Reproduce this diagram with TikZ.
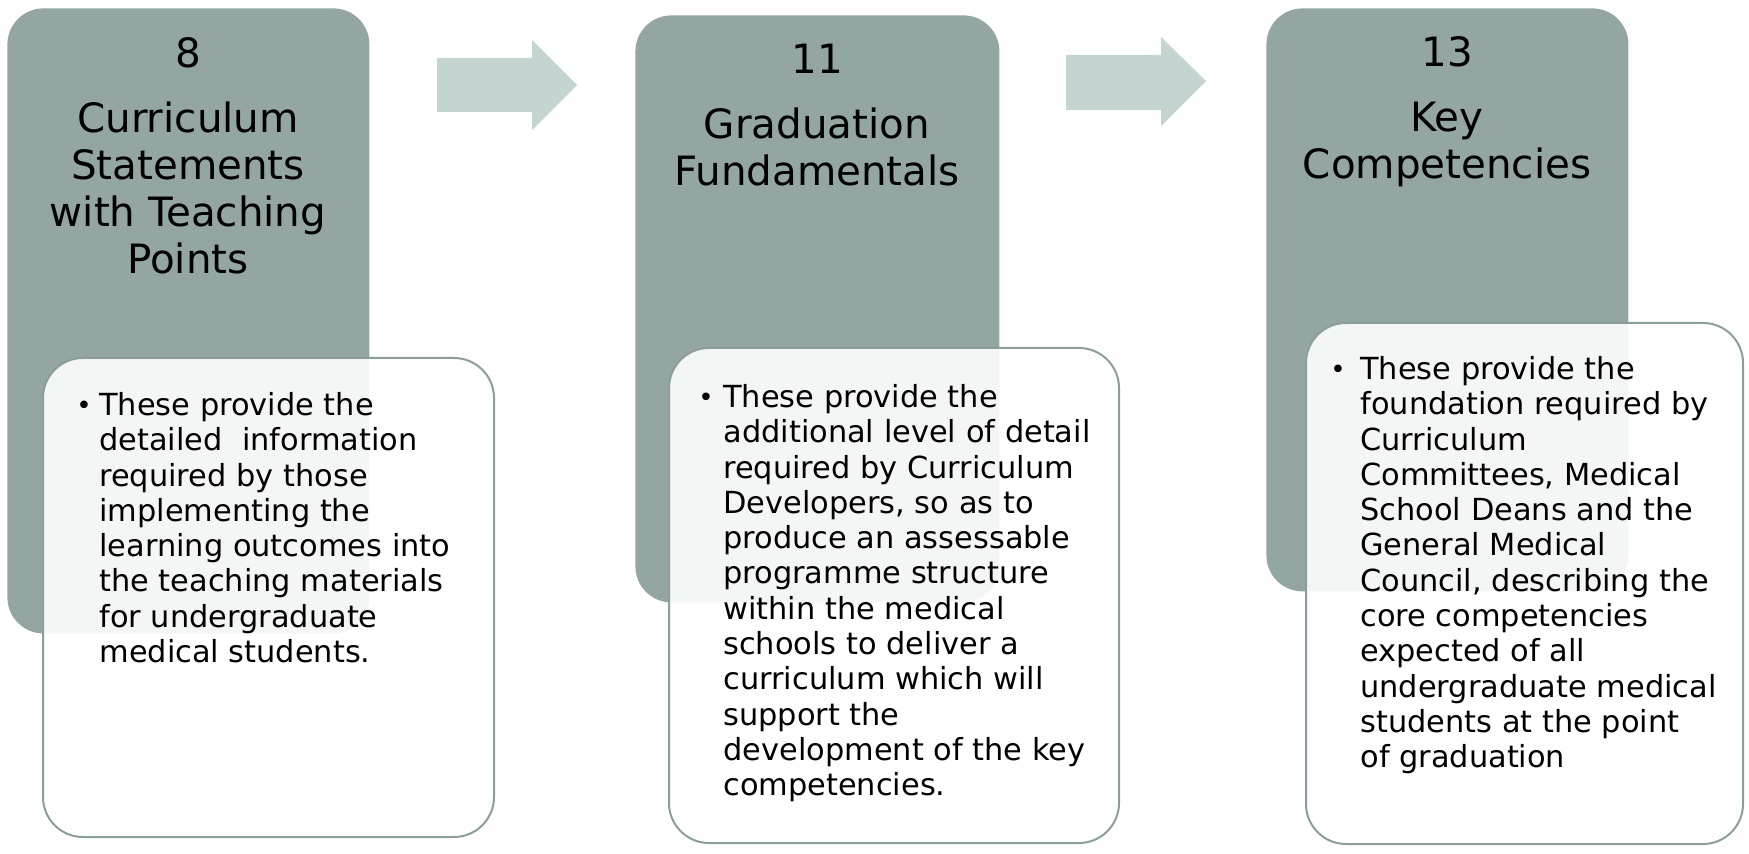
\documentclass[tikz,border=0pt]{standalone}
\usepackage{fontspec}
\setmainfont{DejaVu Sans}
\definecolor{darkc}{RGB}{147,166,163}
\definecolor{arrowc}{RGB}{196,212,208}
\definecolor{borderc}{RGB}{140,158,155}
\begin{document}
\begin{tikzpicture}[x=0.5pt,y=-0.5pt,
  darkbox/.style={fill=darkc,draw=none,rounded corners=18pt,inner sep=0pt,anchor=north west},
  whitebox/.style={fill=white,fill opacity=0.9,draw=borderc,line width=1pt,rounded corners=20pt,inner sep=0pt,anchor=north west},
  blockarrow/.style={fill=arrowc,draw=none},
  numtext/.style={anchor=north,inner sep=0pt,align=center,font=\fontsize{20.2}{23.5}\selectfont},
  titletext/.style={anchor=north,inner sep=0pt,align=center,font=\fontsize{20.2}{23.5}\selectfont},
  bodytext/.style={anchor=north west,inner sep=0pt,align=left,font=\fontsize{15.2}{17.65}\selectfont},
  bullettext/.style={anchor=base,inner sep=0pt,font=\fontsize{13}{15}\selectfont}
]
\useasboundingbox (0,0) rectangle (1749,854);

% dark header boxes
\node[darkbox,minimum width=181pt,minimum height=312.5pt] (d1) at (7,8) {};
\node[darkbox,minimum width=182pt,minimum height=293.5pt] (d2) at (635,15) {};
\node[darkbox,minimum width=181pt,minimum height=291.5pt] (d3) at (1266,8) {};

% block arrows
\fill[blockarrow] (437,58) -- (532,58) -- (532,40) -- (577,85) -- (532,130) -- (532,112) -- (437,112) -- cycle;
\fill[blockarrow] (1066,55) -- (1161,55) -- (1161,37) -- (1206,81) -- (1161,126) -- (1161,110) -- (1066,110) -- cycle;

% white description boxes
\node[whitebox,minimum width=225.5pt,minimum height=239.5pt] (w1) at (42,357) {};
\node[whitebox,minimum width=225pt,minimum height=247.5pt] (w2) at (668,347) {};
\node[whitebox,minimum width=218.5pt,minimum height=260.5pt] (w3) at (1305,322) {};

% titles
\node[numtext] (n1) at (188,35) {\rule{0pt}{16pt}8};
\node[titletext] (t1) at (188,100) {\rule{0pt}{16pt}Curriculum\\Statements\\with Teaching\\Points};
\node[numtext] (n2) at (817,41) {\rule{0pt}{16pt}11};
\node[titletext] (t2) at (817,106) {\rule{0pt}{16pt}Graduation\\Fundamentals};
\node[numtext] (n3) at (1447,34) {\rule{0pt}{16pt}13};
\node[titletext] (t3) at (1447,99) {\rule{0pt}{16pt}Key\\Competencies};

% bodies
\node[bullettext] (b1) at (84,415) {•};
\node[bodytext] (x1) at (99,391) {\rule{0pt}{12pt}These provide the\\detailed\ \ information\\required by those\\implementing the\\learning outcomes into\\the teaching materials\\for undergraduate\\medical students.};
\node[bullettext] (b2) at (706,407) {•};
\node[bodytext] (x2) at (723,383) {\rule{0pt}{12pt}These provide the\\additional level of detail\\required by Curriculum\\Developers, so as to\\produce an assessable\\programme structure\\within the medical\\schools to deliver a\\curriculum which will\\support the\\development of the key\\competencies.};
\node[bullettext] (b3) at (1338,379) {•};
\node[bodytext] (x3) at (1360,355) {\rule{0pt}{12pt}These provide the\\foundation required by\\Curriculum\\Committees, Medical\\School Deans and the\\General Medical\\Council, describing the\\core competencies\\expected of all\\undergraduate medical\\students at the point\\of graduation};
\end{tikzpicture}
\end{document}
